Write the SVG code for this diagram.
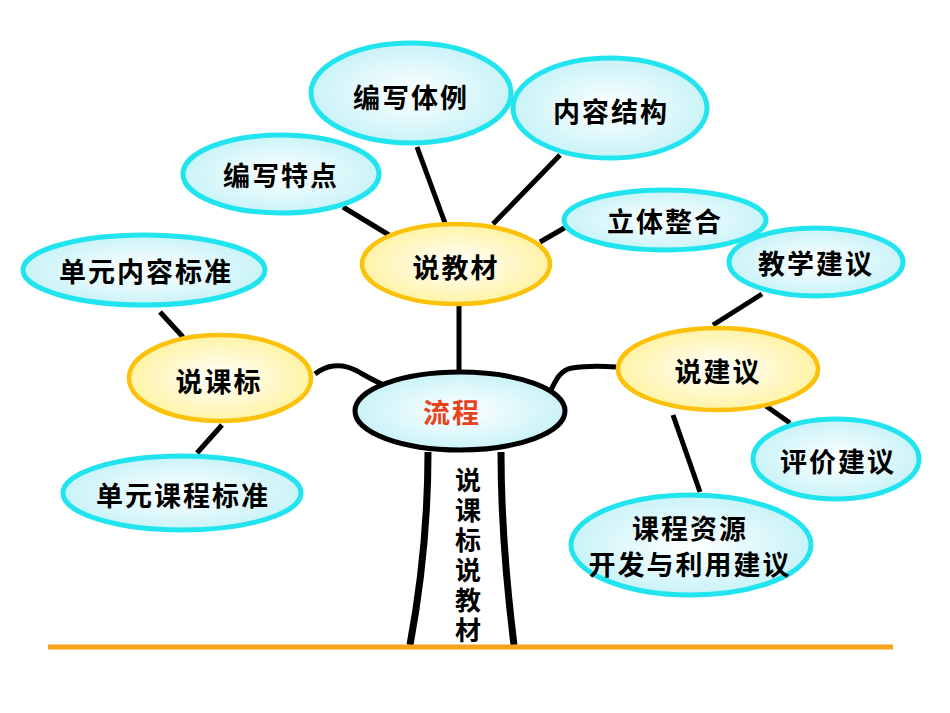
<svg xmlns="http://www.w3.org/2000/svg" width="950" height="713" viewBox="0 0 950 713">
<defs>
<radialGradient id="gc" cx="50%" cy="50%" r="50%">
<stop offset="0" stop-color="#ffffff"/>
<stop offset="1" stop-color="#c9f3f8"/>
</radialGradient>
<radialGradient id="gy" cx="50%" cy="50%" r="50%">
<stop offset="0" stop-color="#ffffff"/>
<stop offset="1" stop-color="#fff3a6"/>
</radialGradient>
<style>
.c{fill:url(#gc);stroke:#22e4ee;stroke-width:5}
.y{fill:url(#gy);stroke:#fcc10a;stroke-width:4.5}
.k{fill:url(#gc);stroke:#000;stroke-width:5}
.t{font-family:"Noto Sans CJK SC","Noto Sans CJK JP",sans-serif;font-size:27px;font-weight:bold;fill:#000;text-anchor:middle;dominant-baseline:central;letter-spacing:2px}
.v{font-family:"Noto Sans CJK SC","Noto Sans CJK JP",sans-serif;font-size:26px;font-weight:bold;fill:#000;writing-mode:vertical-rl;text-anchor:start;letter-spacing:4px}
.ln{stroke:#000;stroke-width:5;fill:none;stroke-linecap:butt}
</style>
</defs>
<rect width="950" height="713" fill="#fff"/>
<g id="connectors">
<line class="ln" x1="459" y1="306" x2="459" y2="370"/>
<path class="ln" d="M315,374 C325,366 340,362 355,370 C365,375 372,380 382,384"/>
<path class="ln" d="M551,390 C556,380 560,370 572,368 C585,366 600,366 616,367"/>
<line class="ln" x1="343" y1="207" x2="389" y2="235"/>
<line class="ln" x1="417" y1="147" x2="445" y2="223"/>
<line class="ln" x1="560" y1="155" x2="493" y2="224"/>
<line class="ln" x1="540" y1="242" x2="566" y2="227"/>
<line class="ln" x1="160" y1="312" x2="183" y2="337"/>
<line class="ln" x1="222" y1="425" x2="197" y2="453"/>
<line class="ln" x1="713" y1="325" x2="762" y2="294"/>
<line class="ln" x1="766" y1="406" x2="790" y2="423"/>
<line class="ln" x1="673" y1="415" x2="700" y2="492"/>
</g>
<g id="trunk">
<path d="M428,452 C428,520 422,580 410,645" stroke="#000" stroke-width="7" fill="none"/>
<path d="M501,452 C501,520 506,580 514,645" stroke="#000" stroke-width="7" fill="none"/>
<text class="v" x="468" y="467">说课标说教材</text>
</g>
<g id="n-liucheng"><ellipse class="k" cx="460" cy="411" rx="105" ry="39"/><text class="t" x="452" y="411" style="fill:#e8431f">流程</text></g>
<g id="n-shuojiaocai"><ellipse class="y" cx="456" cy="264" rx="94" ry="40"/><text class="t" x="456" y="266">说教材</text></g>
<g id="n-shuokebiao"><ellipse class="y" cx="220" cy="378" rx="91" ry="43"/><text class="t" x="219" y="380">说课标</text></g>
<g id="n-shuojianyi"><ellipse class="y" cx="718" cy="369" rx="100" ry="41"/><text class="t" x="718" y="370">说建议</text></g>
<g id="n-bianxietili"><ellipse class="c" cx="411" cy="93" rx="100" ry="50"/><text class="t" x="411" y="96">编写体例</text></g>
<g id="n-neirongjiegou"><ellipse class="c" cx="610" cy="108" rx="97" ry="50"/><text class="t" x="611" y="110">内容结构</text></g>
<g id="n-bianxietedian"><ellipse class="c" cx="281" cy="174" rx="98" ry="39"/><text class="t" x="281" y="174">编写特点</text></g>
<g id="n-litizhenghe"><ellipse class="c" cx="665" cy="220" rx="101" ry="30"/><text class="t" x="665" y="220">立体整合</text></g>
<g id="n-jiaoxuejianyi"><ellipse class="c" cx="816" cy="262" rx="87" ry="34"/><text class="t" x="816" y="262">教学建议</text></g>
<g id="n-danyuanneirong"><ellipse class="c" cx="144" cy="270" rx="121" ry="35"/><text class="t" x="146" y="270">单元内容标准</text></g>
<g id="n-danyuankecheng"><ellipse class="c" cx="182" cy="493" rx="119" ry="37"/><text class="t" x="183" y="494">单元课程标准</text></g>
<g id="n-pingjiajianyi"><ellipse class="c" cx="836" cy="459" rx="83" ry="40"/><text class="t" x="838" y="460">评价建议</text></g>
<g id="n-kechengziyuan"><ellipse class="c" cx="691" cy="545" rx="120" ry="50"/><text class="t" x="690" y="527">课程资源</text><text class="t" x="690" y="563">开发与利用建议</text></g>
<line x1="48" y1="647" x2="893" y2="647" stroke="#f7a31c" stroke-width="5"/>
</svg>
